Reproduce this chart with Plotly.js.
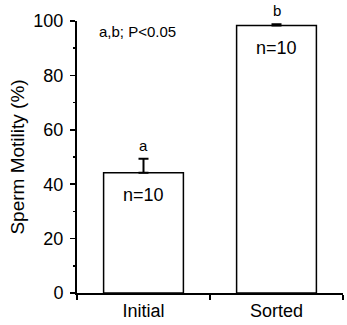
<!DOCTYPE html>
<html><head><meta charset="utf-8">
<script src="https://cdn.plot.ly/plotly-3.0.1.min.js"></script>
<style>body{margin:0;padding:0;background:#fff}#chart{width:347px;height:325px}</style>
</head><body><div id="chart"></div>
<script>
const categories = ["Initial", "Sorted"];
const motility = [44.2, 98.3];
const sem = [5.2, 0.5];
const sigLetters = ["a", "b"];
const nLabels = ["n=10", "n=10"];
const noteText = "a,b; P<0.05";

const font = "Liberation Sans, Arial, sans-serif";
const trace = {
  type: "bar", x: categories, y: motility, width: 0.6,
  marker: {color: "#ffffff", line: {color: "#000", width: 1.5}},
  error_y: {type: "data", symmetric: false, array: sem, arrayminus: sem.map(() => 0),
            color: "#000", thickness: 2, width: 5},
  hoverinfo: "none"
};
const annotations = [];
categories.forEach((c, i) => {
  annotations.push({x: c, y: motility[i] + sem[i], yref: "y", text: sigLetters[i], showarrow: false,
    yanchor: "bottom", yshift: 3, font: {family: font, size: 15, color: "#000"}});
  annotations.push({x: c, y: motility[i], yref: "y", text: nLabels[i], showarrow: false,
    yanchor: "top", yshift: -10, font: {family: font, size: 18, color: "#000"}});
});
annotations.push({xref: "paper", yref: "paper", x: 0.075, y: 0.96, xanchor: "left", yanchor: "middle",
  text: noteText, showarrow: false, font: {family: font, size: 15, color: "#000"}});

const layout = {
  width: 347, height: 325,
  margin: {l: 77, r: 4, t: 21, b: 32},
  paper_bgcolor: "#fff", plot_bgcolor: "#fff",
  showlegend: false,
  font: {family: font, color: "#000"},
  xaxis: {
    type: "category", range: [-0.5, 1.5], showline: true, linecolor: "#000", linewidth: 1.5,
    ticks: "outside", tickson: "boundaries", ticklen: 5, tickwidth: 1.5, tickcolor: "#000",
    ticklabelstandoff: 1,
    showgrid: false, zeroline: false, tickfont: {size: 18, family: font}
  },
  yaxis: {
    range: [0, 100], tickvals: [0, 20, 40, 60, 80, 100], showline: true, linecolor: "#000", linewidth: 2,
    ticks: "outside", ticklen: 5, tickwidth: 1.5, tickcolor: "#000", ticklabelstandoff: 3,
    minor: {dtick: 10, ticks: "outside", ticklen: 2, tickwidth: 1.5, tickcolor: "#000", showgrid: false},
    showgrid: false, zeroline: false, tickfont: {size: 18, family: font},
    title: {text: "Sperm Motility (%)", font: {size: 19, family: font}, standoff: 4}
  },
  annotations: annotations
};
Plotly.newPlot("chart", [trace], layout, {staticPlot: true});
</script></body></html>
